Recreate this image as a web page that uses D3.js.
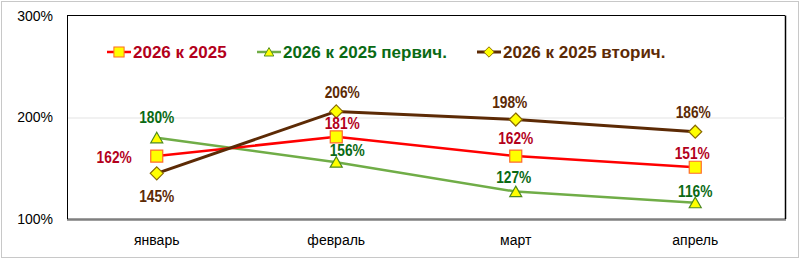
<!DOCTYPE html>
<html>
<head>
<meta charset="utf-8">
<script src="https://cdn.jsdelivr.net/npm/d3@7"></script>
<style>
  body { margin: 0; background: #fff; }
  svg { display: block; }
</style>
</head>
<body>
<div id="chart"></div>
<script>
// data
var months = ["январь", "февраль", "март", "апрель"];
var total = [162, 181, 162, 151];
var primary = [180, 156, 127, 116];
var secondary = [145, 206, 198, 186];
var yTicks = [100, 200, 300];

var svgWidth = 800, svgHeight = 259;
var margin = { top: 16, right: 15, bottom: 40, left: 67 };
var width = 785 - margin.left;
var height = 219 - margin.top;

var svg = d3.select("#chart").append("svg")
  .attr("width", svgWidth)
  .attr("height", svgHeight);

// outer frame
svg.append("rect")
  .attr("x", 1.5).attr("y", 1.5)
  .attr("width", svgWidth - 3).attr("height", svgHeight - 3)
  .attr("fill", "#fff").attr("stroke", "#c8c8c8").attr("stroke-width", 1);

var g = svg.append("g").attr("transform", `translate(${margin.left}, ${margin.top})`);

var xScale = d3.scaleBand().domain(months).range([0, width]);
var yScale = d3.scaleLinear().domain([100, 300]).range([height, 0]);
var xPos = d => xScale(d) + xScale.bandwidth() / 2;

// plot area shadow + border
g.append("line")
  .attr("x1", 0).attr("x2", width + 1)
  .attr("y1", height + 0.5).attr("y2", height + 0.5)
  .attr("stroke", "#7f7f7f").attr("stroke-width", 2.5);
g.append("line")
  .attr("x1", width + 0.5).attr("x2", width + 0.5)
  .attr("y1", -0.5).attr("y2", height)
  .attr("stroke", "#000").attr("stroke-width", 1.5);
g.append("line")
  .attr("x1", 0).attr("x2", width)
  .attr("y1", -0.5).attr("y2", -0.5)
  .attr("stroke", "#000").attr("stroke-width", 1);
g.append("line")
  .attr("x1", 0.5).attr("x2", 0.5)
  .attr("y1", -0.5).attr("y2", height)
  .attr("stroke", "#000").attr("stroke-width", 1);

// gridline at 200
g.selectAll(".grid").data(yTicks.filter(t => t === 200)).enter()
  .append("line")
  .attr("x1", 1).attr("x2", width)
  .attr("y1", d => yScale(d) + 0.5).attr("y2", d => yScale(d) + 0.5)
  .attr("stroke", "#e3e3e3").attr("stroke-width", 1);

// y axis labels
var yAxis = g.append("g").call(d3.axisLeft(yScale).tickValues(yTicks).tickFormat(d => d + "%").tickSize(0).tickPadding(14));
yAxis.select(".domain").remove();
yAxis.selectAll("text")
  .attr("font-family", "Arial, 'Liberation Sans', sans-serif")
  .attr("font-size", "14px").attr("fill", "#000");

// x axis labels
var xAxis = g.append("g").attr("transform", `translate(0, ${height})`)
  .call(d3.axisBottom(xScale).tickSize(0).tickPadding(16));
xAxis.select(".domain").remove();
xAxis.selectAll("text")
  .attr("font-family", "Arial, 'Liberation Sans', sans-serif")
  .attr("font-size", "14px").attr("fill", "#000");

// label offsets [dx, dy] relative to each point (labels were hand-placed in the original)
var series = [
  { name: "2026 к 2025", values: total, line: "#ff0000", stroke: "#ff6a2a", text: "#b3001b", marker: "square", lw: 2.5,
    offsets: [[-25, 7], [6, -8], [0, -12.5], [-3, -8]], anchors: ["end", "middle", "middle", "middle"] },
  { name: "2026 к 2025 первич.", values: primary, line: "#70ad47", stroke: "#4d8a1f", text: "#0a6a14", marker: "triangle", lw: 2.5,
    offsets: [[0, -15], [11, -6], [-2, -8.5], [0, -6]], anchors: ["middle", "middle", "middle", "middle"] },
  { name: "2026 к 2025 вторич.", values: secondary, line: "#5c2a05", stroke: "#8a6a00", text: "#5c2a05", marker: "diamond", lw: 3,
    offsets: [[0, 29], [6, -13], [-6, -11.5], [-2, -14]], anchors: ["middle", "middle", "middle", "middle"] }
];

function markerPath(type) {
  if (type === "square") return "M-6,-6H6V6H-6Z";
  if (type === "triangle") return "M0,-5.5L6,5H-6Z";
  return "M0,-6.5L6.5,0L0,6.5L-6.5,0Z";
}

var lineGen = (vals) => d3.line()
  .x((d, i) => xPos(months[i]))
  .y(d => yScale(d))(vals);

// lines (draw green, red, then brown)
[1, 0, 2].forEach(k => {
  var s = series[k];
  g.append("path")
    .attr("d", lineGen(s.values))
    .attr("fill", "none").attr("stroke", s.line).attr("stroke-width", s.lw)
    .attr("stroke-linejoin", "round");
});

// markers
series.forEach(s => {
  g.selectAll(null).data(s.values).enter()
    .append("path")
    .attr("d", markerPath(s.marker))
    .attr("transform", (d, i) => `translate(${xPos(months[i])}, ${yScale(d)})`)
    .attr("fill", "#ffff00").attr("stroke", s.stroke).attr("stroke-width", 1.2);
});

// data labels (condensed look: squeeze Arial bold horizontally)
series.forEach(s => {
  g.selectAll(null).data(s.values).enter()
    .append("text")
    .attr("transform", (d, i) => {
      var x = xPos(months[i]) + s.offsets[i][0];
      var y = yScale(d) + s.offsets[i][1];
      return `translate(${x}, ${y}) scale(0.86, 1)`;
    })
    .attr("text-anchor", (d, i) => s.anchors[i])
    .attr("font-family", "Arial, 'Liberation Sans', sans-serif")
    .attr("font-size", "16px").attr("font-weight", "bold")
    .attr("fill", s.text)
    .text(d => d + "%");
});

// legend
var legendX = [107, 257, 477];
var legend = svg.append("g");
series.forEach((s, i) => {
  var lg = legend.append("g").attr("transform", `translate(${legendX[i]}, 52)`);
  lg.append("line").attr("x1", 0).attr("x2", 24).attr("y1", 0).attr("y2", 0)
    .attr("stroke", s.line).attr("stroke-width", s.lw);
  lg.append("path").attr("d", markerPath(s.marker))
    .attr("transform", `translate(12, 0) scale(${s.marker === "square" ? 0.85 : 0.8})`)
    .attr("fill", "#ffff00").attr("stroke", s.stroke).attr("stroke-width", 1.2);
  lg.append("text").attr("x", 26).attr("y", 6)
    .attr("font-family", "Arial, 'Liberation Sans', sans-serif")
    .attr("font-size", "17px").attr("font-weight", "bold")
    .attr("fill", s.text)
    .text(s.name);
});
</script>
</body>
</html>
